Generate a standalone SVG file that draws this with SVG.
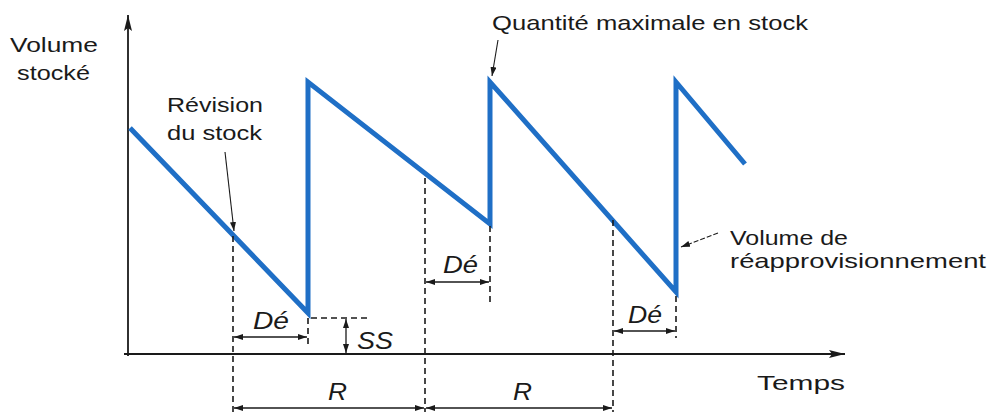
<svg xmlns="http://www.w3.org/2000/svg" width="989" height="412" viewBox="0 0 989 412">
<defs>
<style>
text{font-family:"Liberation Sans",Arial,Helvetica,sans-serif;fill:#1a1a1a}
.lbl{font-size:21px}
.it{font-size:23px;font-style:italic}
.ax{stroke:#1a1a1a;stroke-width:1.8;fill:none}
.dash{stroke:#1a1a1a;stroke-width:1.6;stroke-dasharray:6 4;fill:none}
.dim{stroke:#1a1a1a;stroke-width:1.3;fill:none;marker-start:url(#sa);marker-end:url(#sa)}
.lead{stroke:#1a1a1a;stroke-width:1.1;fill:none;marker-end:url(#la)}
.blue{stroke:#1f6fc6;stroke-width:5;fill:none;stroke-linejoin:miter;stroke-miterlimit:10}
</style>
<marker id="big" viewBox="0 0 16 8" refX="16" refY="4" markerWidth="16" markerHeight="8" markerUnits="userSpaceOnUse" orient="auto">
<path d="M0,0 L16,4 L0,8 L3,4 Z" fill="#1a1a1a"/>
</marker>
<marker id="sa" viewBox="0 0 9 6" refX="9" refY="3" markerWidth="9" markerHeight="6" markerUnits="userSpaceOnUse" orient="auto-start-reverse">
<path d="M0,0 L9,3 L0,6 Z" fill="#1a1a1a"/>
</marker>
<marker id="la" viewBox="0 0 9 6" refX="9" refY="3" markerWidth="9" markerHeight="6" markerUnits="userSpaceOnUse" orient="auto">
<path d="M0,0 L9,3 L0,6 Z" fill="#1a1a1a"/>
</marker>
</defs>
<rect width="989" height="412" fill="#ffffff"/>

<g id="axes">
<line class="ax" x1="128" y1="356" x2="128" y2="15" marker-end="url(#big)"/>
<line class="ax" x1="124" y1="354" x2="845" y2="354" marker-end="url(#big)"/>
</g>

<g id="stock-curve">
<polyline class="blue" points="130,128 308,313 308,82 490,224 490,82 676,292 676,82 745,164"/>
</g>

<g id="connectors">
<!-- dashed guides -->
<line class="dash" x1="233" y1="236" x2="233" y2="412"/>
<line class="dash" x1="425" y1="178" x2="425" y2="412"/>
<line class="dash" x1="613" y1="220" x2="613" y2="412"/>
<line class="dash" x1="490" y1="226" x2="490" y2="304"/>
<line class="dash" x1="308" y1="318" x2="308" y2="348"/>
<line class="dash" x1="676" y1="296" x2="676" y2="338"/>
<line class="dash" x1="311" y1="318" x2="368" y2="318"/>
<!-- dimension arrows -->
<line class="dim" x1="234" y1="337" x2="307" y2="337"/>
<line class="dim" x1="426" y1="282" x2="489" y2="282"/>
<line class="dim" x1="614" y1="331" x2="675" y2="331"/>
<line class="dim" x1="346" y1="319" x2="346" y2="353"/>
<line class="dim" x1="234" y1="408" x2="424" y2="408"/>
<line class="dim" x1="426" y1="408" x2="612" y2="408"/>
<!-- leaders -->
<line class="lead" x1="225" y1="152" x2="234" y2="231"/>
<line class="lead" x1="498" y1="40" x2="492" y2="76"/>
<line class="lead" x1="718" y1="233" x2="681" y2="247" stroke-dasharray="5 2"/>
</g>

<g id="label-volume-stocke">
<text class="lbl" x="10" y="52" textLength="88" lengthAdjust="spacingAndGlyphs">Volume</text>
<text class="lbl" x="17" y="80" textLength="73" lengthAdjust="spacingAndGlyphs">stocké</text>
</g>
<g id="label-revision">
<text class="lbl" x="167" y="112" textLength="96" lengthAdjust="spacingAndGlyphs">Révision</text>
<text class="lbl" x="167" y="140" textLength="95" lengthAdjust="spacingAndGlyphs">du stock</text>
</g>
<g id="label-quantite">
<text class="lbl" x="492" y="30" textLength="316" lengthAdjust="spacingAndGlyphs">Quantité maximale en stock</text>
</g>
<g id="label-volume-reappro">
<text class="lbl" x="730" y="245" textLength="118" lengthAdjust="spacingAndGlyphs">Volume de</text>
<text class="lbl" x="730" y="268" textLength="256" lengthAdjust="spacingAndGlyphs">réapprovisionnement</text>
</g>
<g id="label-temps">
<text class="lbl" x="757" y="390" textLength="88" lengthAdjust="spacingAndGlyphs">Temps</text>
</g>
<g id="label-de1"><text class="it" x="253" y="329" textLength="36" lengthAdjust="spacingAndGlyphs">Dé</text></g>
<g id="label-de2"><text class="it" x="443" y="273" textLength="35" lengthAdjust="spacingAndGlyphs">Dé</text></g>
<g id="label-de3"><text class="it" x="628" y="323" textLength="34" lengthAdjust="spacingAndGlyphs">Dé</text></g>
<g id="label-ss"><text class="it" x="357" y="349" textLength="36" lengthAdjust="spacingAndGlyphs">SS</text></g>
<g id="label-r1"><text class="it" x="328" y="400" textLength="19" lengthAdjust="spacingAndGlyphs">R</text></g>
<g id="label-r2"><text class="it" x="513" y="400" textLength="19" lengthAdjust="spacingAndGlyphs">R</text></g>
</svg>
